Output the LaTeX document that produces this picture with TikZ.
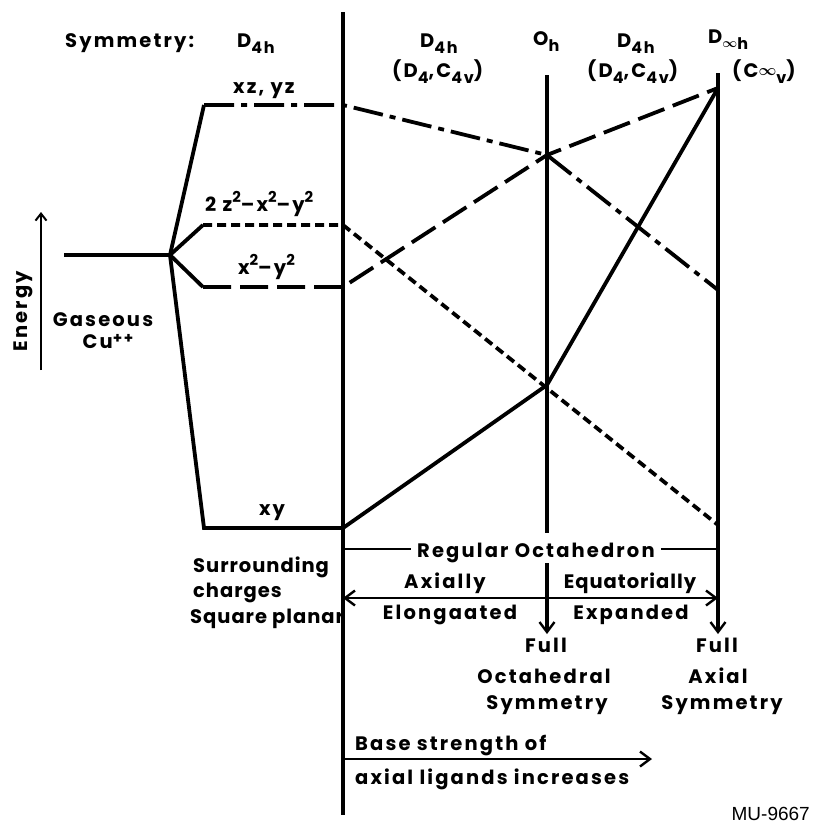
\documentclass[tikz,border=0pt]{standalone}
\usepackage{fontspec}
\setmainfont{Poppins}[LetterSpace=11]
\newfontfamily\mufont{Liberation Sans}
\usetikzlibrary{arrows.meta}
\usepackage{amsmath,amssymb,bm}
\newcommand\dn[1]{\raisebox{-6pt}{\fontsize{16}{16}\selectfont #1}}
\newcommand\up[1]{\raisebox{9pt}{\fontsize{15}{15}\selectfont #1}}
\newcommand\pp[1]{\raisebox{5pt}{\fontsize{15}{15}\selectfont #1}}
\newcommand\infs{\raisebox{1.5pt}{\scalebox{0.75}{$\boldsymbol{\infty}$}}}
\newcommand\tight{\addfontfeature{LetterSpace=5}}
\begin{document}
\begin{tikzpicture}[x=1pt,y=-1pt,
  every node/.style={font=\fontsize{19.5}{22}\selectfont\bfseries, inner sep=0pt},
  lvl/.style={line width=3.8pt},
  axisline/.style={line width=4pt},
  dashdot/.style={lvl, dash pattern=on 30pt off 7pt on 6pt off 7pt},
  sdash/.style={lvl, dash pattern=on 9pt off 5pt},
  ldash/.style={lvl, dash pattern=on 28pt off 9pt},
  thinline/.style={line width=2.4pt},
  barb/.tip={Straight Barb[length=10pt,width=15pt,line width=2.4pt]}]
\useasboundingbox (0,0) rectangle (814,823);
% coordinates
\coordinate (gl) at (64,255);
\coordinate (br) at (170,255);
\coordinate (xzC) at (204,105);
\coordinate (xzE) at (343,105);
\coordinate (zC) at (203,225);
\coordinate (zE) at (343,225);
\coordinate (xC) at (203,287);
\coordinate (xE) at (343,287);
\coordinate (xyC) at (204,528);
\coordinate (xyE) at (343,528);
\coordinate (ohX) at (547,155);
\coordinate (ohY) at (547,385);
\coordinate (dXZ) at (718,290);
\coordinate (dX2) at (718,88);
\coordinate (dZ2) at (718,525);
\coordinate (mTop) at (343,12);
\coordinate (mBot) at (343,815);
\coordinate (ohTop) at (547,75);
\coordinate (ohMid) at (547,533);
\coordinate (ohLow) at (547,563);
\coordinate (ohTip) at (547,634);
\coordinate (dTop) at (718,73);
\coordinate (dTip) at (718,634);
\coordinate (roL) at (343,549);
\coordinate (roR) at (718,549);
\coordinate (daL) at (343,598);
\coordinate (daR) at (718,598);
\coordinate (baL) at (343,759);
\coordinate (baR) at (652,759);
\coordinate (eB) at (41,370);
\coordinate (eT) at (41,212);
% vertical axes
\draw[axisline] (mTop) -- (mBot);
\draw[axisline] (ohTop) -- (ohMid);
\draw[axisline,-{barb}] (ohLow) -- (ohTip);
\draw[axisline,-{barb}] (dTop) -- (dTip);
% levels
\draw[lvl] (gl) -- (br);
\draw[lvl] (br) -- (xzC);
\draw[lvl] (br) -- (zC);
\draw[lvl] (br) -- (xC);
\draw[lvl] (br) -- (xyC) -- (xyE) -- (ohY) -- (dX2);
\draw[dashdot] (xzC) -- (xzE) -- (ohX) -- (dXZ);
\draw[sdash] (zC) -- (zE) -- (dZ2);
\draw[ldash] (xC) -- (xE) -- (ohX) -- (dX2);
% headings
\node[anchor=base west] (sym) at (65,47) {Symmetry:};
\node[anchor=base west] (d4a) at (237,47) {D\dn{4h}};
\node[anchor=base west] (d4b) at (420,47) {D\dn{4h}};
\node[anchor=base west] (d4bs) at (392,77) {(D\dn{4},C\dn{4v})};
\node[anchor=base west] (oh) at (533,45) {O\dn{h}};
\node[anchor=base west] (d4c) at (617,47) {D\dn{4h}};
\node[anchor=base west] (d4cs) at (587,77) {(D\dn{4},C\dn{4v})};
\node[anchor=base west] (dinf) at (708,43) {D\dn{\infs h}};
\node[anchor=base west] (cinf) at (732,77) {(C\infs\dn{v})};
% level labels
\node[anchor=base west] (lxz) at (233,93) {xz, yz};
\node[anchor=base west] (lz2) at (205,211) {2 z\up{2}–x\up{2}–y\up{2}};
\node[anchor=base west] (lx2) at (238,274) {x\up{2}–y\up{2}};
\node[anchor=base] (lxy) at (272,515) {xy};
\node[anchor=base] (gas) at (103,326) {Gaseous};
\node[anchor=base] (cu) at (108,348) {Cu\pp{++}};
\node[rotate=90] (en) at (23,311) {Energy};
\draw[line width=2pt,-{Straight Barb[length=7pt,width=11pt,line width=2pt]}] (eB) -- (eT);
% left lower text
\node[anchor=base west] (sur) at (193,572) {\tight Surrounding};
\node[anchor=base west] (chg) at (193,597) {\tight charges};
\node[anchor=base west] (sqp) at (190,623) {\tight Square planar};
% regular octahedron
\node[anchor=base west, inner xsep=6pt] (ro) at (411,557) {Regular Octahedron};
\draw[thinline] (roL) -- (roL -| ro.west);
\draw[thinline] (roR -| ro.east) -- (roR);
% double arrow
\draw[thinline,{barb}-{barb}] (daL) -- (daR);
\node[anchor=base] (ax) at (445,588) {Axially};
\node[anchor=base] (el) at (450,619) {Elongaated};
\node[anchor=base] (eq) at (630,588) {\tight Equatorially};
\node[anchor=base] (ex) at (631,619) {Expanded};
\node[anchor=base] (f1) at (546,652) {Full};
\node[anchor=base] (oc) at (544,683) {Octahedral};
\node[anchor=base] (s1) at (547,709) {Symmetry};
\node[anchor=base] (f2) at (717,652) {Full};
\node[anchor=base] (axl) at (718,683) {Axial};
\node[anchor=base] (s2) at (722,709) {Symmetry};
% base strength arrow
\draw[thinline,-{barb}] (baL) -- (baR);
\node[anchor=base west] (bs) at (355,750) {Base strength of};
\node[anchor=base west] (al) at (355,784) {axial ligands increases};
\node[anchor=base east, font=\mufont\fontsize{19}{20}\selectfont] (mu) at (810,820) {MU-9667};
\end{tikzpicture}
\end{document}
